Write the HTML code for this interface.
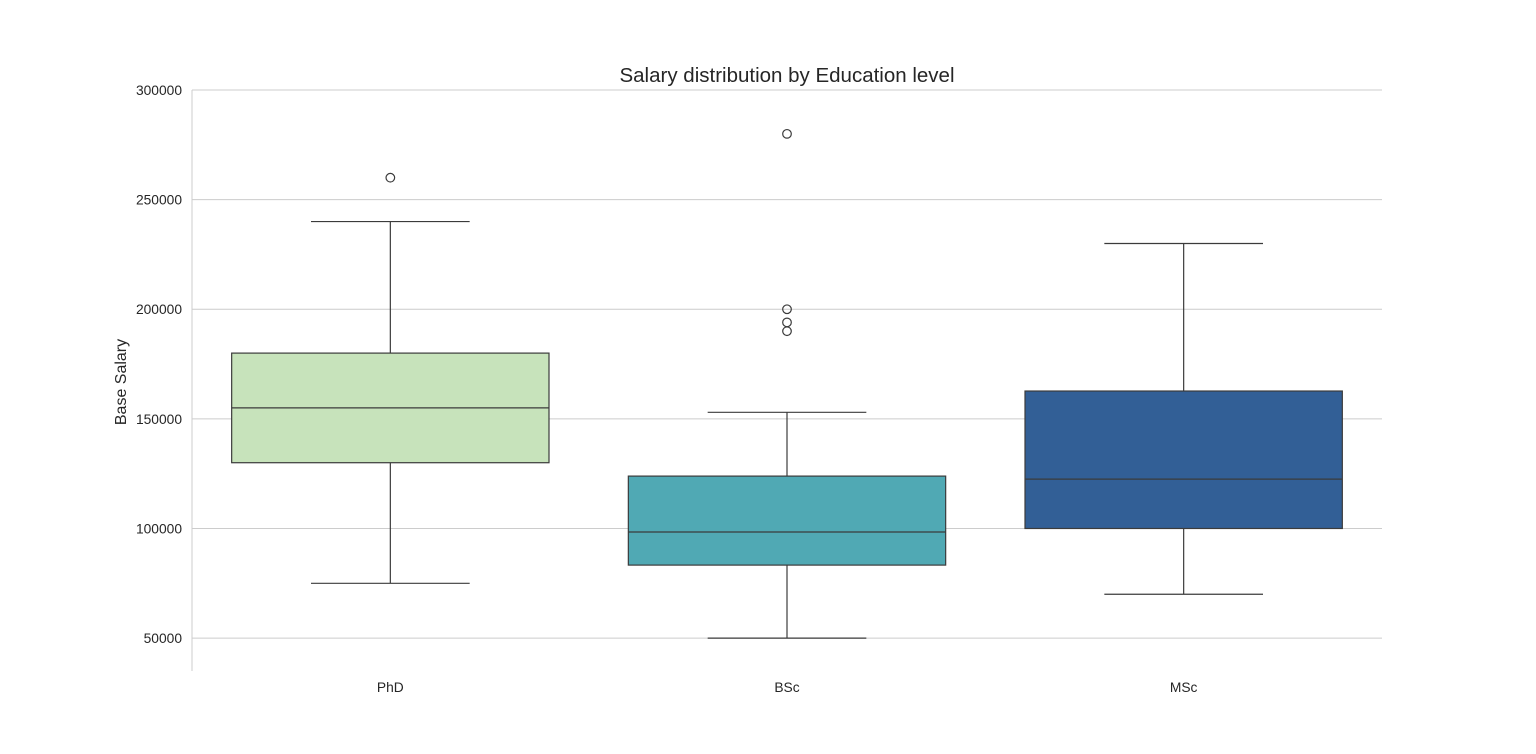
<!DOCTYPE html>
<html><head><meta charset="utf-8"><style>
html,body{margin:0;padding:0;background:#fff;}
svg{display:block;font-family:"Liberation Sans",Arial,sans-serif;}
</style></head><body>
<svg id="chart" width="1536" height="754">
<text x="787" y="82" text-anchor="middle" font-size="20.5" fill="#262626">Salary distribution by Education level</text>
<text transform="translate(126,382) rotate(-90)" text-anchor="middle" font-size="16" fill="#262626">Base Salary</text>
<g id="grid"></g><g id="boxes"></g><g id="ticks"></g>
</svg>
<script>
const categories = ["PhD", "BSc", "MSc"];
const whiskerLow = [75000, 50000, 70000];
const q1 = [130000, 83300, 100000];
const median = [155000, 98400, 122500];
const q3 = [180000, 123900, 162700];
const whiskerHigh = [240000, 153000, 230000];
const outliers = [[260000], [280000, 200000, 194000, 190000], []];
const colors = ["#c7e3bb", "#50a9b4", "#325f96"];
const yTicks = [50000, 100000, 150000, 200000, 250000, 300000];

const NS = "http://www.w3.org/2000/svg";
const X0 = 192, X1 = 1382, Ymin = 35000, Ymax = 300000, PY0 = 671, PY1 = 90;
const y = v => PY0 - (v - Ymin) / (Ymax - Ymin) * (PY0 - PY1);
const band = (X1 - X0) / categories.length;
const xc = i => X0 + band * (i + 0.5);
function el(tag, attrs, parent) { const e = document.createElementNS(NS, tag); for (const k in attrs) e.setAttribute(k, attrs[k]); parent.appendChild(e); return e; }
const grid = document.getElementById("grid"), boxes = document.getElementById("boxes"), ticks = document.getElementById("ticks");
const axis = el("line", {x1: X0, x2: X0, y1: PY1, y2: PY0, stroke: "#cccccc", "stroke-width": 1}, grid);


yTicks.forEach(t => {
  const g = el("line", {x1: X0, x2: X1, y1: y(t), y2: y(t), stroke: "#cccccc", "stroke-width": 1}, grid);
  
  
  const tx = el("text", {x: X0 - 10, y: y(t) + 5, "text-anchor": "end", "font-size": 13.8, fill: "#262626"}, ticks);
  tx.textContent = t;
  
  
});
const bw = band * 0.8, cw = bw / 2, st = "#3b3b3b";
categories.forEach((c, i) => {
  const cx = xc(i);
  const g = el("g", {}, boxes);
  
  
  el("line", {x1: cx, x2: cx, y1: y(whiskerLow[i]), y2: y(q1[i]), stroke: st, "stroke-width": 1.2}, g);
  el("line", {x1: cx, x2: cx, y1: y(q3[i]), y2: y(whiskerHigh[i]), stroke: st, "stroke-width": 1.2}, g);
  el("line", {x1: cx - cw / 2, x2: cx + cw / 2, y1: y(whiskerLow[i]), y2: y(whiskerLow[i]), stroke: st, "stroke-width": 1.2}, g);
  el("line", {x1: cx - cw / 2, x2: cx + cw / 2, y1: y(whiskerHigh[i]), y2: y(whiskerHigh[i]), stroke: st, "stroke-width": 1.2}, g);
  el("rect", {x: cx - bw / 2, y: y(q3[i]), width: bw, height: y(q1[i]) - y(q3[i]), fill: colors[i], stroke: st, "stroke-width": 1.2}, g);
  el("line", {x1: cx - bw / 2, x2: cx + bw / 2, y1: y(median[i]), y2: y(median[i]), stroke: st, "stroke-width": 1.2}, g);
  outliers[i].forEach(o => {
    const p = el("circle", {cx: cx, cy: y(o), r: 4.3, fill: "none", stroke: st, "stroke-width": 1.2}, g);
    
    
  });
  const tx = el("text", {x: cx, y: 692, "text-anchor": "middle", "font-size": 13.8, fill: "#262626"}, ticks);
  tx.textContent = c;
  
  
});
</script>
</body></html>
